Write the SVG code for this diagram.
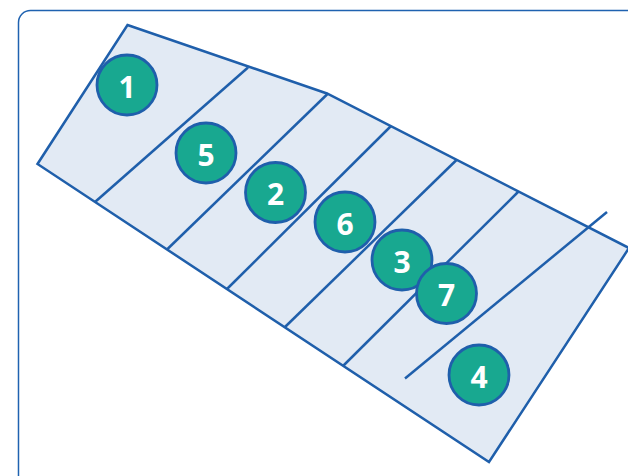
<svg xmlns="http://www.w3.org/2000/svg" width="628" height="476" viewBox="0 0 628 476">
<style>
.frame{fill:#ffffff;stroke:#1f62b0;stroke-width:1.5}
.plot{fill:#e2eaf4;stroke:#1f5fab;stroke-width:2.5;stroke-linejoin:miter}
.div{fill:none;stroke:#1f5fab;stroke-width:2.5;stroke-linecap:butt}
.node circle{fill:#18a890;stroke:#1f5fab;stroke-width:2.8}
.node text{fill:#ffffff;font-family:"Open Sans","Liberation Sans",sans-serif;font-weight:700;font-size:30px;text-anchor:middle;dominant-baseline:central}
</style>
<rect class="frame" x="18.5" y="10.5" width="640" height="490" rx="12"/>
<polygon class="plot" points="127.5,25 327,93.5 629,248 489,462 37.5,164"/>
<g id="connectors">
<line class="div" x1="248" y1="67.5" x2="95" y2="202"/>
<line class="div" x1="328" y1="93.5" x2="167" y2="249.5"/>
<line class="div" x1="391" y1="126" x2="227" y2="289"/>
<line class="div" x1="456.5" y1="160" x2="285" y2="327"/>
<line class="div" x1="518.5" y1="191.5" x2="343" y2="366"/>
<line class="div" x1="607" y1="212" x2="405" y2="378.5"/>
</g>
<g id="n1" class="node"><circle cx="127" cy="85" r="30"/><text x="127" y="86">1</text></g>
<g id="n5" class="node"><circle cx="206" cy="153" r="30"/><text x="206" y="154">5</text></g>
<g id="n2" class="node"><circle cx="275.5" cy="192.5" r="30"/><text x="275.5" y="193.5">2</text></g>
<g id="n6" class="node"><circle cx="345" cy="222" r="30"/><text x="345" y="223">6</text></g>
<g id="n3" class="node"><circle cx="402" cy="260" r="30"/><text x="402" y="261">3</text></g>
<g id="n7" class="node"><circle cx="446.5" cy="293.5" r="30"/><text x="446.5" y="294.5">7</text></g>
<g id="n4" class="node"><circle cx="479" cy="375" r="30"/><text x="479" y="376">4</text></g>
</svg>
